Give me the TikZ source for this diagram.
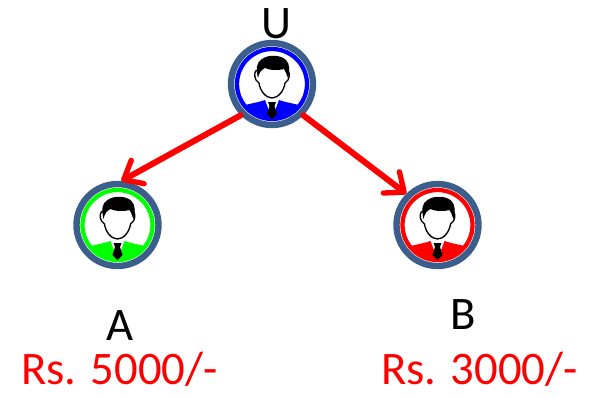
\documentclass[tikz,border=0pt]{standalone}
\usepackage{fontspec}
\setmainfont{Carlito}
\usetikzlibrary{arrows.meta}
\definecolor{ringblue}{RGB}{59,94,140}
\tikzset{
  person/.style={circle,draw=ringblue,line width=4.8pt,fill=white,minimum size=61.5pt,inner sep=0pt},
  letter/.style={font=\fontsize{35}{35}\selectfont,text=black,inner sep=0pt},
  amount/.style={font=\fontsize{35}{35}\selectfont,text=red,inner sep=0pt},
  link/.style={draw=red,line width=4.5pt,line cap=round,line join=round,
    -{Straight Barb[length=12pt,width=20pt,line width=4pt,round]}},
  pics/face/.style={code={
    % shirt and inner ring
    \begin{scope}
      \clip (0,0) circle (36);
      \fill [#1] (-40,40) -- (-40,26) -- (-30,22) .. controls (-20,19) and (-12,18) .. (-7,16)
        -- (-1,32) -- (1,32) -- (7,16) .. controls (12,18) and (20,19) .. (30,22) -- (40,26) -- (40,40) -- cycle;
    \end{scope}
    \draw [#1,line width=3.2pt] (0,0) circle (35);
    % head
    \draw [black,line width=1pt,fill=white] (-14,-14)
      .. controls (-18,-14) and (-18,-8) .. (-16,-4)
      .. controls (-15,-2) and (-14,-2) .. (-13,-1)
      .. controls (-12,7) and (-6,14) .. (0,14)
      .. controls (6,14) and (12,7) .. (13,-1)
      .. controls (14,-2) and (15,-2) .. (16,-4)
      .. controls (18,-8) and (18,-14) .. (14,-14)
      .. controls (12,-24) and (-12,-24) .. (-14,-14) -- cycle;
    % hair
    \fill [black] (-14,-6) .. controls (-16,-14) and (-16,-22) .. (-10,-25)
      .. controls (-3,-30) and (9,-29) .. (14,-24)
      .. controls (18,-20) and (18,-12) .. (16,-6)
      .. controls (14,-10) and (14,-13) .. (12,-15)
      .. controls (4,-13) and (-3,-14) .. (-7,-16)
      .. controls (-11,-14) and (-13,-11) .. (-14,-6) -- cycle;
    % tie
    \fill [black] (-4,18) -- (4,18) -- (2.5,22) -- (5,30) -- (0,35) -- (-5,30) -- (-2.5,22) -- cycle;
  }}
}
\begin{document}
\begin{tikzpicture}[x=.75pt,y=-.75pt]
\useasboundingbox (0,0) rectangle (596,397);

% nodes
\node [person] (U) at (272,84) {};
\node [person] (A) at (117.5,225) {};
\node [person] (B) at (437.5,225) {};

\pic at (U) {face=blue};
\pic at (A) {face=green};
\pic at (B) {face=red};

\node [letter] (Ulabel) at (276,24) {U};
\node [letter] (Alabel) at (120,326) {A};
\node [letter] (Blabel) at (463,315) {B};
\node [amount] (Aamount) at (119.5,369) {Rs. 5000/-};
\node [amount] (Bamount) at (479.5,369) {Rs. 3000/-};

\draw [link] (U.225) -- (A.85);
\draw [link] (U.-45) -- (B.135);

\end{tikzpicture}
\end{document}
